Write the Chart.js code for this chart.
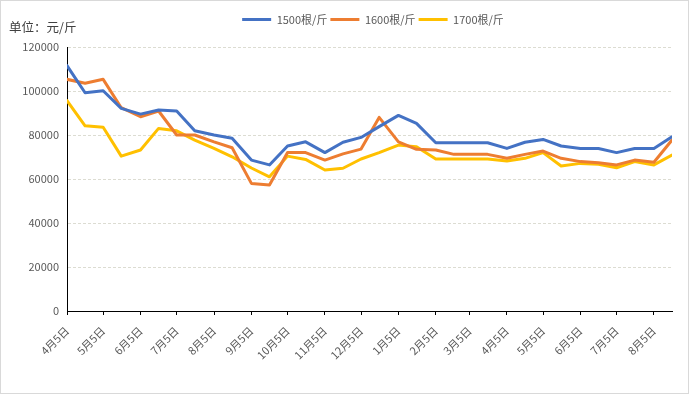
<!DOCTYPE html>
<html><head><meta charset="utf-8">
<script src="https://cdn.jsdelivr.net/npm/chart.js@4"></script>
<style>
html,body{margin:0;padding:0;background:#fff;}
#wrap{position:relative;width:689px;height:394px;}
#frame{position:absolute;left:0;top:0;width:689px;height:394px;box-sizing:border-box;border:1px solid #d9d9d9;pointer-events:none;}
#unit{position:absolute;left:9px;top:17px;font:12.5px 'Noto Sans CJK SC',sans-serif;color:#404040;white-space:nowrap;}
</style></head><body>
<div id="wrap"><canvas id="c" width="689" height="394"></canvas><div id="unit">单位：元/斤</div><div id="frame"></div></div>
<script>
const dates = ['2022-04-05','2022-04-20','2022-05-05','2022-05-20','2022-06-05','2022-06-20','2022-07-05','2022-07-20','2022-08-05','2022-08-20','2022-09-05','2022-09-20','2022-10-05','2022-10-20','2022-11-05','2022-11-20','2022-12-05','2022-12-20','2023-01-05','2023-01-20','2023-02-05','2023-02-20','2023-03-05','2023-03-20','2023-04-05','2023-04-20','2023-05-05','2023-05-20','2023-06-05','2023-06-20','2023-07-05','2023-07-20','2023-08-05','2023-08-20'];
const tickDates = ['2022-04-05','2022-05-05','2022-06-05','2022-07-05','2022-08-05','2022-09-05','2022-10-05','2022-11-05','2022-12-05','2023-01-05','2023-02-05','2023-03-05','2023-04-05','2023-05-05','2023-06-05','2023-07-05','2023-08-05'];
const tickLabels = ['4月5日','5月5日','6月5日','7月5日','8月5日','9月5日','10月5日','11月5日','12月5日','1月5日','2月5日','3月5日','4月5日','5月5日','6月5日','7月5日','8月5日'];
const seriesNames = ['1500根/斤','1600根/斤','1700根/斤'];
const s1500 = [111500,99200,100100,92100,89500,91400,90900,81900,80000,78500,68600,66400,75000,76900,72000,76700,78900,83800,88900,85300,76500,76500,76500,76500,73900,76700,78000,75000,73900,73900,72000,73900,73900,79200];
const s1600 = [105300,103500,105300,92400,88300,90900,80000,80000,76900,74200,58000,57300,72000,72000,68600,71400,73600,88000,76900,73500,73200,71200,71200,71200,69400,71200,72700,69400,67900,67400,66400,68600,67600,77700];
const s1700 = [95600,84200,83500,70400,73200,83000,81900,77700,73900,70100,65000,61000,70400,68900,64100,64900,69100,72000,75400,74700,69100,69100,69100,69100,68200,69400,72000,65900,67100,66700,65100,67900,66400,70900];
const yTicks = [0,20000,40000,60000,80000,100000,120000];

const dayNum = s => Date.UTC(+s.slice(0,4), +s.slice(5,7)-1, +s.slice(8,10)) / 86400000;
const base = dayNum(dates[0]);
const xs = dates.map(d => dayNum(d) - base);
const tickX = tickDates.map(d => dayNum(d) - base);
const pts = arr => arr.map((v,i) => ({x: xs[i], y: v}));
const FONT = "'Noto Sans CJK SC', sans-serif";
const colors = ['#4472C4','#ED7D31','#FFC000'];

const legendPatch = {
  id: 'legendPatch',
  beforeLayout(chart) {
    const lg = chart.legend;
    if (lg && !lg._patched) {
      lg._patched = true;
      const f = lg.fit;
      lg.fit = function(){ f.call(this); this.height = 36; };
      const d = lg.draw;
      lg.draw = function(){ const ctx = this.ctx; ctx.save(); ctx.translate(32,0); d.apply(this, arguments); ctx.restore(); };
    }
  }
};

new Chart(document.getElementById('c'), {
  type: 'line',
  data: {
    datasets: [s1500, s1600, s1700].map((arr,i) => ({
      label: seriesNames[i],
      data: pts(arr),
      borderColor: colors[i],
      backgroundColor: colors[i],
      borderWidth: 3,
      pointRadius: 0,
      tension: 0,
      borderJoinStyle: 'round',
      borderCapStyle: 'round',
      fill: false
    }))
  },
  options: {
    responsive: false,
    devicePixelRatio: 1,
    animation: false,
    layout: { padding: { left: 10, right: 17, top: 11, bottom: 0 } },
    plugins: {
      legend: {
        position: 'top',
        labels: {
          usePointStyle: true, pointStyle: 'line', pointStyleWidth: 29,
          padding: 3, color: '#595959', font: { family: FONT, size: 11 }
        }
      },
      tooltip: { enabled: false }
    },
    scales: {
      x: {
        type: 'linear',
        min: 0, max: xs[xs.length-1],
        afterBuildTicks: s => { s.ticks = tickX.map(v => ({ value: v })); },
        afterFit: s => { s.height = 83; },
        ticks: {
          autoSkip: false, maxRotation: 45, minRotation: 45, padding: 9,
          color: '#595959', font: { family: FONT, size: 11 },
          callback: v => { const i = tickX.indexOf(v); return i >= 0 ? tickLabels[i] : ''; }
        },
        grid: { drawOnChartArea: false, drawTicks: true, tickLength: 4, color: '#000', lineWidth: 1 },
        border: { display: true, color: '#000', width: 1 }
      },
      y: {
        min: 0, max: 120000,
        afterBuildTicks: s => { s.ticks = yTicks.map(v => ({ value: v })); },
        afterFit: s => { s.width = 57; },
        ticks: { color: '#595959', padding: 8, font: { family: FONT, size: 11 }, callback: v => String(v) },
        grid: { drawTicks: false, color: c => c.tick && c.tick.value === 0 ? 'rgba(0,0,0,0)' : '#dcdcd2', lineWidth: 1 },
        border: { display: true, color: '#000', width: 1, dash: [3,2] }
      }
    }
  },
  plugins: [legendPatch]
});
</script>
</body></html>
